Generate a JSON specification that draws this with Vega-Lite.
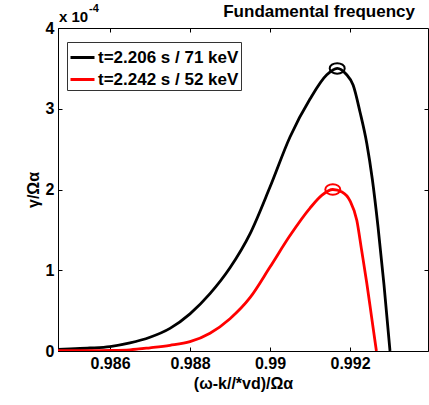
{
  "$schema": "https://vega.github.io/schema/vega-lite/v6.json",
  "width": 370,
  "height": 323,
  "autosize": "none",
  "padding": {"left": 58, "top": 28, "right": 1, "bottom": 54},
  "background": "white",
  "config": {
    "font": "Liberation Sans",
    "view": {"stroke": "black", "strokeWidth": 1},
    "axis": {
      "labelFont": "Liberation Sans", "labelFontSize": 16, "labelFontWeight": "bold", "labelColor": "black",
      "titleFont": "Liberation Sans", "titleFontSize": 16, "titleFontWeight": "bold", "titleColor": "black",
      "domainColor": "black", "tickColor": "black", "grid": false, "tickSize": -4, "domainWidth": 1, "tickWidth": 1
    },
    "legend": {
      "orient": "none", "legendX": 9, "legendY": 14, "strokeColor": "#333", "fillColor": "white", "padding": 2,
      "labelFont": "Liberation Sans", "labelFontSize": 17, "labelFontWeight": "bold", "labelColor": "black",
      "symbolType": "stroke", "symbolSize": 576, "symbolStrokeWidth": 3, "rowPadding": -4, "labelOffset": 2, "title": null
    }
  },
  "datasets": {
    "curves": [
      {"x": 0.9847, "g": 0.0000020, "series": "t=2.206 s / 71 keV"},
      {"x": 0.9850, "g": 0.0000026, "series": "t=2.206 s / 71 keV"},
      {"x": 0.9855, "g": 0.0000037, "series": "t=2.206 s / 71 keV"},
      {"x": 0.9860, "g": 0.0000055, "series": "t=2.206 s / 71 keV"},
      {"x": 0.9865, "g": 0.0000100, "series": "t=2.206 s / 71 keV"},
      {"x": 0.9870, "g": 0.0000170, "series": "t=2.206 s / 71 keV"},
      {"x": 0.9875, "g": 0.0000280, "series": "t=2.206 s / 71 keV"},
      {"x": 0.9880, "g": 0.0000460, "series": "t=2.206 s / 71 keV"},
      {"x": 0.9885, "g": 0.0000710, "series": "t=2.206 s / 71 keV"},
      {"x": 0.9890, "g": 0.0001030, "series": "t=2.206 s / 71 keV"},
      {"x": 0.9895, "g": 0.0001450, "series": "t=2.206 s / 71 keV"},
      {"x": 0.9900, "g": 0.0002030, "series": "t=2.206 s / 71 keV"},
      {"x": 0.9905, "g": 0.0002650, "series": "t=2.206 s / 71 keV"},
      {"x": 0.9910, "g": 0.0003120, "series": "t=2.206 s / 71 keV"},
      {"x": 0.99142, "g": 0.0003420, "series": "t=2.206 s / 71 keV"},
      {"x": 0.99168, "g": 0.0003500, "series": "t=2.206 s / 71 keV"},
      {"x": 0.99190, "g": 0.0003430, "series": "t=2.206 s / 71 keV"},
      {"x": 0.99208, "g": 0.0003290, "series": "t=2.206 s / 71 keV"},
      {"x": 0.99225, "g": 0.0002960, "series": "t=2.206 s / 71 keV"},
      {"x": 0.99242, "g": 0.0002570, "series": "t=2.206 s / 71 keV"},
      {"x": 0.99256, "g": 0.0002120, "series": "t=2.206 s / 71 keV"},
      {"x": 0.99270, "g": 0.0001540, "series": "t=2.206 s / 71 keV"},
      {"x": 0.99285, "g": 0.0000820, "series": "t=2.206 s / 71 keV"},
      {"x": 0.99300, "g": 0.0000000, "series": "t=2.206 s / 71 keV"},
      {"x": 0.9847, "g": 0.0000003, "series": "t=2.242 s / 52 keV"},
      {"x": 0.9855, "g": 0.0000003, "series": "t=2.242 s / 52 keV"},
      {"x": 0.9860, "g": 0.0000006, "series": "t=2.242 s / 52 keV"},
      {"x": 0.9865, "g": 0.0000015, "series": "t=2.242 s / 52 keV"},
      {"x": 0.9870, "g": 0.0000040, "series": "t=2.242 s / 52 keV"},
      {"x": 0.9875, "g": 0.0000070, "series": "t=2.242 s / 52 keV"},
      {"x": 0.9880, "g": 0.0000115, "series": "t=2.242 s / 52 keV"},
      {"x": 0.9885, "g": 0.0000220, "series": "t=2.242 s / 52 keV"},
      {"x": 0.9890, "g": 0.0000400, "series": "t=2.242 s / 52 keV"},
      {"x": 0.9895, "g": 0.0000660, "series": "t=2.242 s / 52 keV"},
      {"x": 0.9900, "g": 0.0001040, "series": "t=2.242 s / 52 keV"},
      {"x": 0.9905, "g": 0.0001430, "series": "t=2.242 s / 52 keV"},
      {"x": 0.9910, "g": 0.0001770, "series": "t=2.242 s / 52 keV"},
      {"x": 0.9913, "g": 0.0001930, "series": "t=2.242 s / 52 keV"},
      {"x": 0.99157, "g": 0.0002000, "series": "t=2.242 s / 52 keV"},
      {"x": 0.99180, "g": 0.0001970, "series": "t=2.242 s / 52 keV"},
      {"x": 0.99200, "g": 0.0001860, "series": "t=2.242 s / 52 keV"},
      {"x": 0.99217, "g": 0.0001620, "series": "t=2.242 s / 52 keV"},
      {"x": 0.99229, "g": 0.0001250, "series": "t=2.242 s / 52 keV"},
      {"x": 0.99242, "g": 0.0000840, "series": "t=2.242 s / 52 keV"},
      {"x": 0.99254, "g": 0.0000420, "series": "t=2.242 s / 52 keV"},
      {"x": 0.99266, "g": 0.0000000, "series": "t=2.242 s / 52 keV"}
    ],
    "peaks": [
      {"x": 0.99168, "g": 0.000350, "series": "t=2.206 s / 71 keV"},
      {"x": 0.99157, "g": 0.000200, "series": "t=2.242 s / 52 keV"}
    ],
    "notes": [
      {"label": "x 10", "role": "mult"},
      {"label": "-4", "role": "exp"},
      {"label": "Fundamental frequency", "role": "title"}
    ]
  },
  "resolve": {"axis": {"x": "independent", "y": "independent"}},
  "layer": [
    {
      "data": {"name": "curves"},
      "mark": {"type": "line", "strokeWidth": 2.8, "interpolate": "monotone", "clip": true},
      "encoding": {
        "x": {"field": "x", "type": "quantitative",
          "scale": {"domain": [0.9847, 0.99395], "zero": false, "nice": false},
          "axis": {"orient": "bottom", "values": [0.986, 0.988, 0.99, 0.992], "format": "~g", "labelPadding": 8, "title": "(ω-k//*vd)/Ωα", "titlePadding": 4}},
        "y": {"field": "g", "type": "quantitative",
          "scale": {"domain": [0, 0.0004], "nice": false},
          "axis": {"orient": "left", "values": [0, 0.0001, 0.0002, 0.0003, 0.0004], "labelExpr": "format(datum.value*10000, 'd')", "labelPadding": 8, "title": "γ/Ωα", "titlePadding": 4}},
        "color": {"field": "series", "type": "nominal",
          "scale": {"domain": ["t=2.206 s / 71 keV", "t=2.242 s / 52 keV"], "range": ["#000000", "#ff0000"]}},
        "order": {"field": "x", "type": "quantitative"}
      }
    },
    {
      "data": {"name": "peaks"},
      "transform": [{"filter": "datum.series === 't=2.206 s / 71 keV'"}],
      "mark": {"type": "point", "filled": false, "strokeWidth": 2, "size": 225, "opacity": 1, "color": "#000000",
        "shape": "M-1,0A1,0.7,0,1,0,1,0A1,0.7,0,1,0,-1,0Z"},
      "encoding": {
        "x": {"field": "x", "type": "quantitative",
          "axis": {"orient": "top", "values": [0.986, 0.988, 0.99, 0.992], "labels": false, "domain": false, "title": null}},
        "y": {"field": "g", "type": "quantitative",
          "axis": {"orient": "right", "values": [0.0001, 0.0002, 0.0003], "labels": false, "domain": false, "title": null}}
      }
    },
    {
      "data": {"name": "peaks"},
      "transform": [{"filter": "datum.series === 't=2.242 s / 52 keV'"}],
      "mark": {"type": "point", "filled": false, "strokeWidth": 2, "size": 225, "opacity": 1, "color": "#ff0000",
        "shape": "M-1,0A1,0.7,0,1,0,1,0A1,0.7,0,1,0,-1,0Z"},
      "encoding": {
        "x": {"field": "x", "type": "quantitative", "axis": null},
        "y": {"field": "g", "type": "quantitative", "axis": null}
      }
    },
    {
      "data": {"name": "notes"},
      "transform": [{"filter": "datum.role === 'mult'"}],
      "mark": {"type": "text", "align": "left", "baseline": "alphabetic", "dx": 1, "dy": -6, "fontSize": 15, "fontWeight": "bold", "color": "black"},
      "encoding": {
        "x": {"datum": 0.9847, "type": "quantitative", "axis": null},
        "y": {"datum": 0.0004, "type": "quantitative", "axis": null},
        "text": {"field": "label"}
      }
    },
    {
      "data": {"name": "notes"},
      "transform": [{"filter": "datum.role === 'exp'"}],
      "mark": {"type": "text", "align": "left", "baseline": "alphabetic", "dx": 31, "dy": -16, "fontSize": 11, "fontWeight": "bold", "color": "black"},
      "encoding": {
        "x": {"datum": 0.9847, "type": "quantitative", "axis": null},
        "y": {"datum": 0.0004, "type": "quantitative", "axis": null},
        "text": {"field": "label"}
      }
    },
    {
      "data": {"name": "notes"},
      "transform": [{"filter": "datum.role === 'title'"}],
      "mark": {"type": "text", "align": "right", "baseline": "alphabetic", "dx": -13, "dy": -11, "fontSize": 17, "fontWeight": "bold", "color": "black"},
      "encoding": {
        "x": {"datum": 0.99395, "type": "quantitative", "axis": null},
        "y": {"datum": 0.0004, "type": "quantitative", "axis": null},
        "text": {"field": "label"}
      }
    }
  ]
}
